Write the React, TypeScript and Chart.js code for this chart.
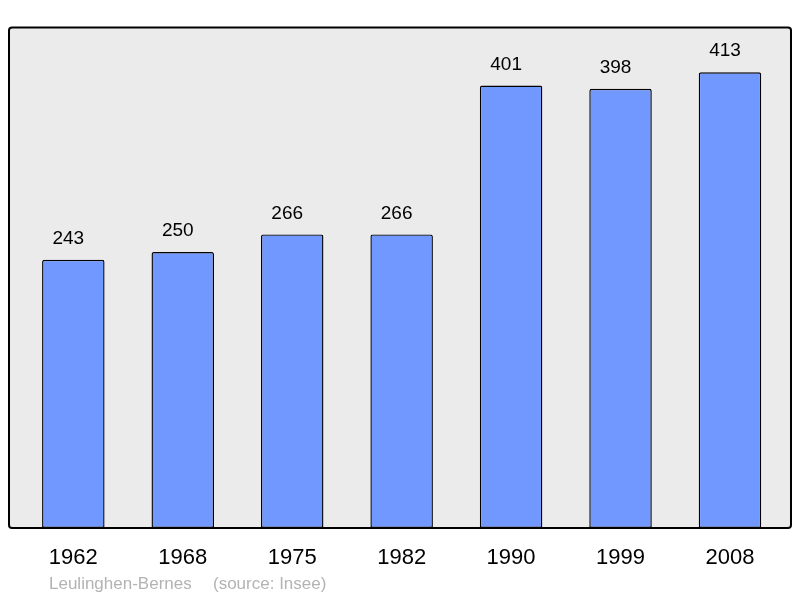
import React, { useEffect, useRef } from "react";
import { Chart, registerables } from "chart.js";

Chart.register(...registerables);

const years = ["1962", "1968", "1975", "1982", "1990", "1999", "2008"];
const population = [243, 250, 266, 266, 401, 398, 413];
const yMax = 454;
const footerPlace = "Leulinghen-Bernes";
const footerSource = "(source: Insee)";

const FONT = "'Liberation Sans', Arial, sans-serif";

const framePlugin = {
  id: "frame",
  beforeDatasetsDraw(chart: any) {
    const { ctx, chartArea } = chart;
    const x0 = chartArea.left - 9.6;
    const x1 = chartArea.right + 6.3;
    const y0 = chartArea.top + 0.5;
    const y1 = chartArea.bottom;
    ctx.save();
    ctx.beginPath();
    ctx.roundRect(x0, y0, x1 - x0, y1 - y0, 3);
    ctx.fillStyle = "#ebebeb";
    ctx.fill();
    ctx.restore();
  },
  afterDatasetsDraw(chart: any) {
    const { ctx, chartArea } = chart;
    const x0 = chartArea.left - 9.6;
    const x1 = chartArea.right + 6.3;
    const y0 = chartArea.top + 0.5;
    const y1 = chartArea.bottom;
    ctx.save();
    ctx.beginPath();
    ctx.roundRect(x0, y0, x1 - x0, y1 - y0, 3);
    ctx.lineWidth = 2;
    ctx.strokeStyle = "#000";
    ctx.stroke();

    // value labels
    const meta = chart.getDatasetMeta(0);
    ctx.fillStyle = "#000";
    ctx.font = `19px ${FONT}`;
    ctx.textAlign = "center";
    ctx.textBaseline = "middle";
    meta.data.forEach((bar: any, i: number) => {
      ctx.fillText(String(population[i]), bar.x - 5, bar.y - 21);
    });

    // footer
    ctx.fillStyle = "#b3b3b3";
    ctx.font = `17px ${FONT}`;
    ctx.textAlign = "left";
    ctx.fillText(footerPlace, 49, 584);
    ctx.fillText(footerSource, 213, 584);
    ctx.restore();
  },
};

export default function App() {
  const ref = useRef<HTMLCanvasElement>(null);
  useEffect(() => {
    if (!ref.current) return;
    const chart = new Chart(ref.current, {
      type: "bar",
      data: {
        labels: years,
        datasets: [
          {
            data: population,
            backgroundColor: "#7098ff",
            borderColor: "#000",
            borderWidth: 1.4,
            borderRadius: { topLeft: 2, topRight: 2, bottomLeft: 0, bottomRight: 0 },
            borderSkipped: false,
            barPercentage: 0.571,
            categoryPercentage: 1,
          },
        ],
      },
      options: {
        animation: false,
        responsive: true,
        maintainAspectRatio: false,
        layout: { padding: { left: 18.6, right: 15.3, top: 27, bottom: 0 } },
        plugins: {
          legend: { display: false },
          tooltip: { enabled: false },
        },
        scales: {
          x: {
            offset: true,
            grid: { display: false, drawTicks: false },
            border: { display: false },
            ticks: {
              color: "#000",
              font: { family: FONT, size: 22 },
              padding: 17,
              maxRotation: 0,
            },
            afterFit(scale: any) {
              scale.height = 70;
            },
          },
          y: {
            display: false,
            min: 0,
            max: yMax,
          },
        },
      },
      plugins: [framePlugin],
    });
    return () => chart.destroy();
  }, []);
  return (
    <div style={{ position: "absolute", left: 0, top: 0, width: 800, height: 598 }}>
      <canvas ref={ref} />
    </div>
  );
}
